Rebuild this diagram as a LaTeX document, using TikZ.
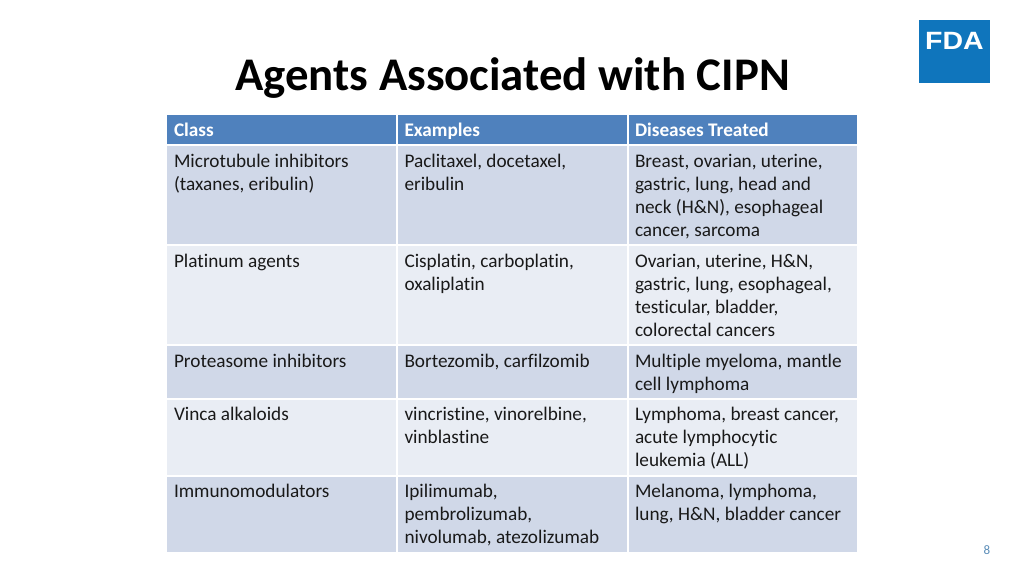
\documentclass[tikz,border=0pt]{standalone}
\usepackage{fontspec}
\setmainfont[Ligatures=NoCommon]{Carlito}
\newfontfamily\logofont{Liberation Sans}
\definecolor{headblue}{HTML}{4F81BD}
\definecolor{rowdark}{HTML}{D0D8E8}
\definecolor{rowlight}{HTML}{E9EDF4}
\definecolor{logoblue}{HTML}{0F75BC}
\definecolor{pagenum}{HTML}{5B8DB8}
\tikzset{
  cell/.style={anchor=north west, inner sep=0pt, outer sep=0pt, align=left, font=\fontsize{19.25}{23}\selectfont, text=black!90},
  headcell/.style={cell, font=\fontsize{19.25}{23}\selectfont\bfseries, text=white}
}
\begin{document}
\begin{tikzpicture}[x=1pt,y=-1pt]
  \useasboundingbox (0,0) rectangle (1024,576);
  \node[font=\fontsize{46.8}{52}\selectfont\bfseries, text=black] (title) at (512.5,78) {Agents Associated with CIPN};
  % logo
  \node[fill=logoblue, anchor=north west, minimum width=71pt, minimum height=63pt, inner sep=0pt] (logo) at (919,20) {};
  \node[font=\fontsize{25}{25}\logofont\bfseries, text=white, inner sep=0pt, xscale=1.14] (fda) at (954.5,41) {FDA};
  % row fills
  \fill[headblue] (167,115) rectangle (857,144);
  \fill[rowdark] (167,146) rectangle (857,244);
  \fill[rowlight] (167,246) rectangle (857,344);
  \fill[rowdark] (167,346) rectangle (857,398);
  \fill[rowlight] (167,400) rectangle (857,475);
  \fill[rowdark] (167,477) rectangle (857,552);
  % column gaps
  \fill[white] (396,115) rectangle (398,552);
  \fill[white] (627,115) rectangle (629,552);
  % header
  \node[headcell] (h1) at (174,123) {Class};
  \node[headcell] (h2) at (404.5,123) {Examples};
  \node[headcell] (h3) at (635,123) {Diseases Treated};
  % rows
  \node[cell] (a1) at (174,154) {Microtubule inhibitors\\(taxanes, eribulin)};
  \node[cell] (b1) at (404.5,154) {Paclitaxel, docetaxel,\\eribulin};
  \node[cell] (c1) at (635,154) {Breast, ovarian, uterine,\\gastric, lung, head and\\neck (H\&N), esophageal\\cancer, sarcoma};
  \node[cell] (a2) at (174,254) {Platinum agents};
  \node[cell] (b2) at (404.5,254) {Cisplatin, carboplatin,\\oxaliplatin};
  \node[cell] (c2) at (635,254) {Ovarian, uterine, H\&N,\\gastric, lung, esophageal,\\testicular, bladder,\\colorectal cancers};
  \node[cell] (a3) at (174,354) {Proteasome inhibitors};
  \node[cell] (b3) at (404.5,354) {Bortezomib, carfilzomib};
  \node[cell] (c3) at (635,354) {Multiple myeloma, mantle\\cell lymphoma};
  \node[cell] (a4) at (174,407.6) {Vinca alkaloids};
  \node[cell] (b4) at (404.5,407.6) {vincristine, vinorelbine,\\vinblastine};
  \node[cell] (c4) at (635,407.6) {Lymphoma, breast cancer,\\acute lymphocytic\\leukemia (ALL)};
  \node[cell] (a5) at (174,484.6) {Immunomodulators};
  \node[cell] (b5) at (404.5,484.6) {Ipilimumab,\\pembrolizumab,\\nivolumab, atezolizumab};
  \node[cell] (c5) at (635,484.6) {Melanoma, lymphoma,\\lung, H\&N, bladder cancer};
  \node[font=\fontsize{13}{15}\selectfont, text=pagenum, inner sep=0pt] (page) at (987,550) {8};
\end{tikzpicture}
\end{document}
